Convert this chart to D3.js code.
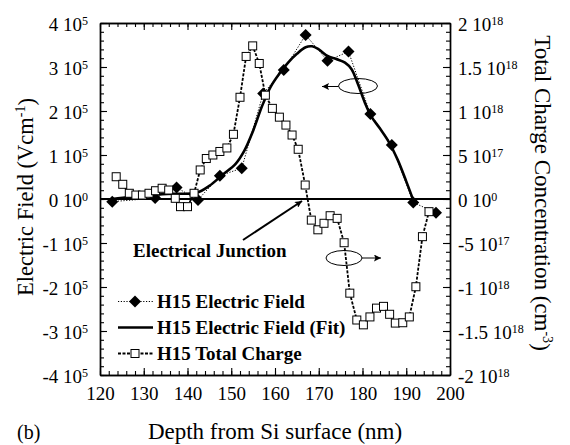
<!DOCTYPE html>
<html>
<head>
<meta charset="utf-8">
<script src="https://cdn.jsdelivr.net/npm/d3@7"></script>
<style>
  body { margin: 0; background: #fff; }
  svg { display: block; }
  svg text { font-family: 'Liberation Serif', 'Times New Roman', Times, serif; fill: #000; }
</style>
</head>
<body>
<div id="chart"></div>
<script>
// measured electric field (diamonds)
const depthField = [122.8, 132.6, 137.5, 142.4, 147.4, 152.4, 157.3, 162.0, 167.0, 172.0, 176.8, 181.8, 186.7, 191.6, 196.8];
const fieldValues = [-0.06e5, 0.02e5, 0.26e5, -0.02e5, 0.53e5, 0.70e5, 2.40e5, 2.93e5, 3.73e5, 3.14e5, 3.35e5, 1.93e5, 1.23e5, -0.08e5, -0.31e5];

// fitted electric field (solid)
const depthFit = [122.8, 127, 132, 137, 142, 145, 148, 151, 153, 155, 157, 159, 161, 163, 165, 167, 168.5, 170, 172, 174, 176, 177.5, 179, 180.5, 182, 184, 186, 188, 190, 191.5];
const fitValues = [0, 0.05e5, 0.1e5, 0.12e5, 0.14e5, 0.3e5, 0.55e5, 0.8e5, 1.1e5, 1.55e5, 2.1e5, 2.55e5, 2.85e5, 3.1e5, 3.3e5, 3.45e5, 3.47e5, 3.4e5, 3.25e5, 3.18e5, 3.1e5, 2.95e5, 2.6e5, 2.2e5, 1.88e5, 1.6e5, 1.3e5, 0.9e5, 0.4e5, 0];

// total charge (squares), cm^-3
const depthCharge = [123.7, 125.2, 126.7, 128.2, 129.7, 131.2, 132.7, 134.2, 135.7, 137.2, 138.4, 140.0, 141.5, 142.9, 144.3, 145.8, 147.4, 149.0, 150.5, 152.0, 153.4, 154.9, 156.4, 157.8, 159.4, 161.0, 162.5, 163.9, 165.3, 166.9, 168.3, 169.8, 171.2, 172.6, 174.2, 175.8, 177.1, 178.7, 180.2, 181.7, 183.2, 184.8, 186.2, 187.5, 189.2, 190.7, 192.2, 193.7, 195.2];
const chargeValues = [2.53e17, 1.67e17, 0.65e17, 0.45e17, 0.45e17, 0.65e17, 0.94e17, 1.22e17, 1.02e17, 0.08e17, -0.87e17, -0.87e17, 0.65e17, 3.3e17, 4.6e17, 5.0e17, 5.4e17, 5.8e17, 7.35e17, 11.56e17, 16.2e17, 17.4e17, 15.4e17, 11.8e17, 10.3e17, 9.3e17, 8.4e17, 7.27e17, 5.65e17, 1.59e17, -2.4e17, -3.5e17, -2.76e17, -1.9e17, -2.2e17, -4.97e17, -10.7e17, -13.75e17, -14.3e17, -13.4e17, -12.4e17, -12.2e17, -13.1e17, -14.1e17, -14.06e17, -13.4e17, -9.97e17, -4.28e17, -1.44e17];

const xTicks = [120, 130, 140, 150, 160, 170, 180, 190, 200];
const leftTicks = [-4e5, -3e5, -2e5, -1e5, 0, 1e5, 2e5, 3e5, 4e5];
const leftTickLabels = ["-4 10^5", "-3 10^5", "-2 10^5", "-1 10^5", "0 10^0", "1 10^5", "2 10^5", "3 10^5", "4 10^5"];
const rightTicks = [-2e18, -1.5e18, -1e18, -5e17, 0, 5e17, 1e18, 1.5e18, 2e18];
const rightTickLabels = ["-2 10^18", "-1.5 10^18", "-1 10^18", "-5 10^17", "0 10^0", "5 10^17", "1 10^18", "1.5 10^18", "2 10^18"];
const legendLabels = ["H15 Electric Field", "H15 Electric Field (Fit)", "H15 Total Charge"];

const width = 570, height = 445;
const L = 100, R = 450, T = 23, B = 375;

const svg = d3.select("#chart").append("svg").attr("width", width).attr("height", height);

const x = d3.scaleLinear().domain([120, 200]).range([L, R]);
const yE = d3.scaleLinear().domain([-4e5, 4e5]).range([B, T]);
const yC = d3.scaleLinear().domain([-2e18, 2e18]).range([B, T]);

function supLabels(g, labels, size) {
    g.selectAll(".tick text").each(function (d, i) {
        const parts = labels[i].split("^");
        const t = d3.select(this).text(null);
        t.append("tspan").text(parts[0]);
        t.append("tspan").attr("dy", "-0.5em").attr("font-size", size).text(parts[1]);
    });
}

function styleAxis(g) {
    g.selectAll("path.domain").attr("stroke", "#000").attr("stroke-width", 1.4);
    g.selectAll(".tick line").attr("stroke", "#000").attr("stroke-width", 1.1);
}

// minor ticks
const minor = svg.append("g");
minor.append("g").attr("transform", `translate(0,${B})`)
    .call(d3.axisBottom(x).tickValues(d3.range(120, 201, 2)).tickSize(-4).tickSizeOuter(0).tickFormat(""));
minor.append("g").attr("transform", `translate(0,${T})`)
    .call(d3.axisTop(x).tickValues(d3.range(120, 201, 2)).tickSize(-4).tickSizeOuter(0).tickFormat(""));
minor.append("g").attr("transform", `translate(${L},0)`)
    .call(d3.axisLeft(yE).tickValues(d3.range(-4e5, 4.01e5, 2e4)).tickSize(-4).tickSizeOuter(0).tickFormat(""));
minor.append("g").attr("transform", `translate(${R},0)`)
    .call(d3.axisRight(yC).tickValues(d3.range(-2e18, 2.01e18, 1e17)).tickSize(-4).tickSizeOuter(0).tickFormat(""));
styleAxis(minor);

// major axes
const gx = svg.append("g").attr("transform", `translate(0,${B})`)
    .call(d3.axisBottom(x).tickValues(xTicks).tickSize(-7).tickSizeOuter(0).tickPadding(12));
gx.selectAll(".tick text").attr("font-size", 19);

svg.append("g").attr("transform", `translate(0,${T})`)
    .call(d3.axisTop(x).tickValues(xTicks).tickSize(-7).tickSizeOuter(0).tickFormat(""))
    .call(styleAxis);

const gl = svg.append("g").attr("transform", `translate(${L},0)`)
    .call(d3.axisLeft(yE).tickValues(leftTicks).tickSize(-7).tickSizeOuter(0).tickPadding(12));
gl.selectAll(".tick text").attr("font-size", 19).attr("dy", "0.38em");
supLabels(gl, leftTickLabels, 12);

const gr = svg.append("g").attr("transform", `translate(${R},0)`)
    .call(d3.axisRight(yC).tickValues(rightTicks).tickSize(-7).tickSizeOuter(0).tickPadding(8));
gr.selectAll(".tick text").attr("font-size", 19).attr("dy", "0.38em");
supLabels(gr, rightTickLabels, 12);

[gx, gl, gr].forEach(styleAxis);

// zero line
svg.append("line")
    .attr("x1", L).attr("x2", R).attr("y1", yE(0)).attr("y2", yE(0))
    .attr("stroke", "#000").attr("stroke-width", 2);

const diamond = r => `M0,${-r}L${r},0L0,${r}L${-r},0Z`;

// fit line
const fitPts = depthFit.map((d, i) => [d, fitValues[i]]);
svg.append("path")
    .attr("d", d3.line().x(d => x(d[0])).y(d => yE(d[1])).curve(d3.curveCatmullRom)(fitPts))
    .attr("fill", "none").attr("stroke", "#000").attr("stroke-width", 2.6);

// measured field
const fieldPts = depthField.map((d, i) => [d, fieldValues[i]]);
svg.append("path")
    .attr("d", d3.line().x(d => x(d[0])).y(d => yE(d[1]))(fieldPts))
    .attr("fill", "none").attr("stroke", "#000").attr("stroke-width", 1).attr("stroke-dasharray", "1.2,1.6");
svg.append("g").selectAll("path").data(fieldPts).join("path")
    .attr("transform", d => `translate(${x(d[0])},${yE(d[1])})`)
    .attr("d", diamond(6)).attr("fill", "#000");

// total charge
const chargePts = depthCharge.map((d, i) => [d, chargeValues[i]]);
svg.append("path")
    .attr("d", d3.line().x(d => x(d[0])).y(d => yC(d[1]))(chargePts))
    .attr("fill", "none").attr("stroke", "#000").attr("stroke-width", 1.8).attr("stroke-dasharray", "3,1.5");
svg.append("g").selectAll("rect").data(chargePts).join("rect")
    .attr("x", d => x(d[0]) - 4).attr("y", d => yC(d[1]) - 4)
    .attr("width", 8).attr("height", 8)
    .attr("fill", "#fff").attr("stroke", "#000").attr("stroke-width", 1);

// arrows
const defs = svg.append("defs");
defs.append("marker").attr("id", "arr").attr("viewBox", "0 0 10 10").attr("refX", 10).attr("refY", 5)
    .attr("markerWidth", 12).attr("markerHeight", 7).attr("markerUnits", "userSpaceOnUse").attr("orient", "auto")
    .append("path").attr("d", "M0,0L10,5L0,10L2,5Z").attr("fill", "#000");

svg.append("line").attr("x1", 243).attr("y1", 240).attr("x2", 302).attr("y2", 201)
    .attr("stroke", "#000").attr("stroke-width", 2).attr("marker-end", "url(#arr)");

svg.append("ellipse").attr("cx", 358).attr("cy", 86).attr("rx", 19.5).attr("ry", 7.5)
    .attr("fill", "none").attr("stroke", "#000").attr("stroke-width", 1);
svg.append("line").attr("x1", 338.5).attr("y1", 86.5).attr("x2", 322).attr("y2", 86.5)
    .attr("stroke", "#000").attr("stroke-width", 1).attr("marker-end", "url(#arr)");

svg.append("ellipse").attr("cx", 344).attr("cy", 258).attr("rx", 18).attr("ry", 7.5)
    .attr("fill", "none").attr("stroke", "#000").attr("stroke-width", 1);
svg.append("line").attr("x1", 362).attr("y1", 258).attr("x2", 381).attr("y2", 258)
    .attr("stroke", "#000").attr("stroke-width", 1).attr("marker-end", "url(#arr)");

svg.append("text").attr("x", 133).attr("y", 257)
    .attr("font-size", 19).attr("font-weight", "bold").text("Electrical Junction");

// legend
const legY = [301.5, 327.5, 353.5];
const leg = svg.append("g");
legY.forEach((ly, i) => {
    const ln = leg.append("line").attr("x1", 118).attr("x2", 153).attr("y1", ly).attr("y2", ly).attr("stroke", "#000");
    if (i === 0) {
        ln.attr("stroke-width", 1).attr("stroke-dasharray", "1.2,1.6");
        leg.append("path").attr("transform", `translate(135,${ly})`).attr("d", diamond(6)).attr("fill", "#000");
    } else if (i === 1) {
        ln.attr("stroke-width", 2.6);
    } else {
        ln.attr("stroke-width", 1.8).attr("stroke-dasharray", "3,1.5");
        leg.append("rect").attr("x", 131).attr("y", ly - 4).attr("width", 8).attr("height", 8)
            .attr("fill", "#fff").attr("stroke", "#000");
    }
    leg.append("text").attr("x", 157).attr("y", ly + 6.5)
        .attr("font-size", 19).attr("font-weight", "bold").text(legendLabels[i]);
});

// axis titles
const lt = svg.append("text").attr("transform", "translate(33,197) rotate(-90)")
    .attr("text-anchor", "middle").attr("font-size", 22.5);
lt.append("tspan").text("Electric Field (Vcm");
lt.append("tspan").attr("font-size", 14).attr("dy", "-0.6em").text("-1");
lt.append("tspan").attr("dy", "0.4em").text(")");

const rt = svg.append("text").attr("transform", "translate(535,193) rotate(90)")
    .attr("text-anchor", "middle").attr("font-size", 23);
rt.append("tspan").text("Total Charge Concentration (cm");
rt.append("tspan").attr("font-size", 14).attr("dy", "-0.6em").text("-3");
rt.append("tspan").attr("dy", "0.4em").text(")");

svg.append("text").attr("x", 275).attr("y", 439).attr("text-anchor", "middle")
    .attr("font-size", 23).text("Depth from Si surface (nm)");

svg.append("text").attr("x", 17).attr("y", 439).attr("font-size", 20).text("(b)");
</script>
</body>
</html>
